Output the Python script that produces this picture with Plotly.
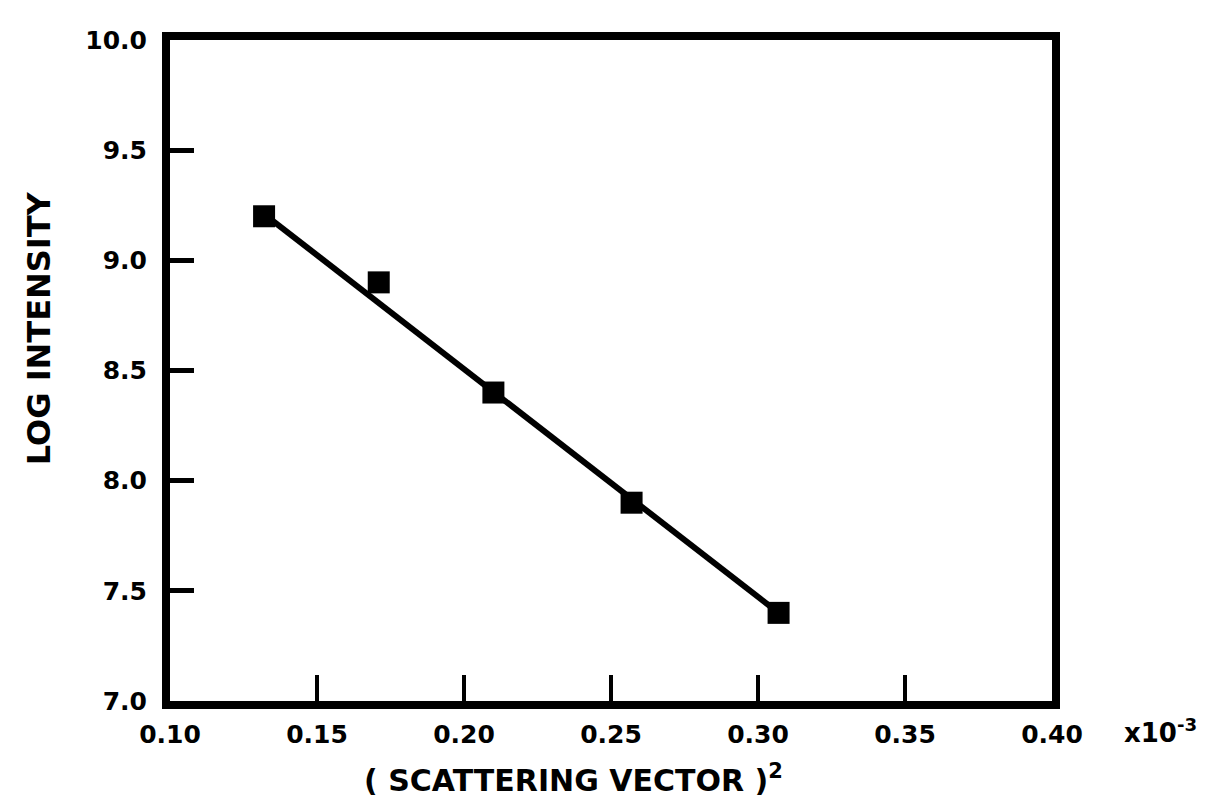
import plotly.graph_objects as go

# measured points: (scattering vector)^2 [x1e-3] vs log intensity
q2 = [0.132, 0.171, 0.210, 0.257, 0.307]
log_int = [9.20, 8.90, 8.40, 7.90, 7.40]

# straight-line fit drawn through the data
fit_x = [0.132, 0.307]
fit_y = [9.21, 7.40]

x_ticks = [0.10, 0.15, 0.20, 0.25, 0.30, 0.35, 0.40]
x_labels = ["0.10", "0.15", "0.20", "0.25", "0.30", "0.35", "0.40"]
y_ticks = [7.0, 7.5, 8.0, 8.5, 9.0, 9.5, 10.0]
y_labels = ["7.0", "7.5", "8.0", "8.5", "9.0", "9.5", "10.0"]

FONT = "DejaVu Sans"

fig = go.Figure()

fig.add_trace(go.Scatter(
    x=fit_x, y=fit_y, mode="lines",
    line=dict(color="black", width=6),
    showlegend=False, hoverinfo="skip",
))

fig.add_trace(go.Scatter(
    x=q2, y=log_int, mode="markers",
    marker=dict(symbol="square", size=22, color="black"),
    showlegend=False,
))

axis_common = dict(
    showgrid=False, zeroline=False,
    showline=True, linecolor="black", linewidth=8, mirror=True,
    ticks="inside", tickcolor="black",
    tickfont=dict(family=FONT, size=25, color="black", weight="bold"),
)

fig.update_xaxes(
    range=[0.10, 0.40], tickvals=x_ticks, ticktext=x_labels,
    ticklen=26, tickwidth=4, ticklabelstandoff=4, **axis_common,
)
fig.update_yaxes(
    range=[7.0, 10.0], tickvals=y_ticks, ticktext=y_labels,
    ticklen=24, tickwidth=5, ticklabelstandoff=10, **axis_common,
)

fig.add_annotation(
    text="( SCATTERING VECTOR )<sup>2</sup>",
    xref="paper", yref="paper", x=0.457, y=-0.118,
    xanchor="center", yanchor="middle", showarrow=False, borderpad=0,
    font=dict(family=FONT, size=30, color="black", weight="bold"),
)
fig.add_annotation(
    text="LOG INTENSITY",
    xref="paper", yref="paper", x=-0.1485, y=0.564,
    xanchor="center", yanchor="middle", textangle=-90, showarrow=False,
    font=dict(family=FONT, size=32, color="black", weight="bold"),
)
fig.add_annotation(
    text="x10<sup>-3</sup>",
    xref="paper", yref="paper", x=1.0805, y=-0.045,
    xanchor="left", yanchor="middle", showarrow=False, borderpad=0,
    font=dict(family=FONT, size=26, color="black", weight="bold"),
)

fig.update_layout(
    width=1217, height=802,
    paper_bgcolor="white", plot_bgcolor="white",
    margin=dict(l=162, r=173, t=32, b=109),
)

fig.write_html("out.html")
